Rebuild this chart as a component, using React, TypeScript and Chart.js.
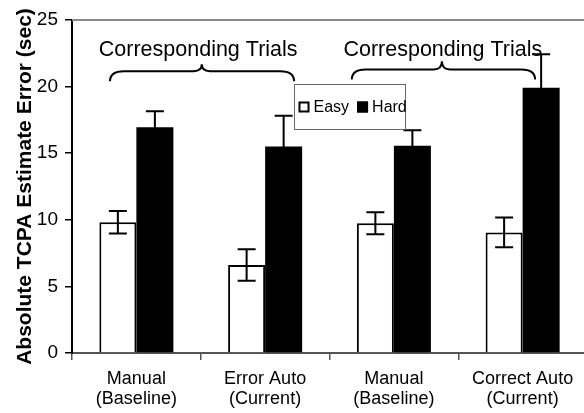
import React, { useEffect, useRef } from 'react';
import { Chart, registerables } from 'chart.js';

Chart.register(...registerables);

const categories: string[][] = [
  ['Manual', '(Baseline)'],
  ['Error Auto', '(Current)'],
  ['Manual', '(Baseline)'],
  ['Correct Auto', '(Current)'],
];
const seriesNames = ['Easy', 'Hard'];
const easyValues = [9.82, 6.6, 9.74, 9.05];
const hardValues = [16.94, 15.51, 15.56, 19.91];
const easyErrors = [0.84, 1.18, 0.83, 1.12];
const hardErrors = [1.21, 2.31, 1.16, 2.51];
const yTicks = [0, 5, 10, 15, 20, 25];
const yTitle = 'Absolute TCPA Estimate Error (sec)';

// annotation groups (category-index positions and y values)
const groupLabels = ['Corresponding Trials', 'Corresponding Trials'];
const groupLabelX = [0.48, 2.38];
const groupLabelY = [22.29, 22.29];
const braceFrom = [-0.205, 1.673];
const braceTo = [1.225, 3.097];
const braceMid = [0.508, 2.373];
const braceTipY = [21.67, 21.9];
const braceLineY = [21.16, 21.29];
const braceEndY = [20.4, 20.53];

const FONT = '"Liberation Sans", Arial, Helvetica, sans-serif';

const errorBarPlugin = {
  id: 'errorBars',
  afterDatasetsDraw(chart: any) {
    const ctx = chart.ctx;
    const y = chart.scales.y;
    const errs = [easyErrors, hardErrors];
    chart.data.datasets.forEach((ds: any, di: number) => {
      const meta = chart.getDatasetMeta(di);
      meta.data.forEach((el: any, i: number) => {
        const v = ds.data[i];
        const e = errs[di][i];
        const yTop = y.getPixelForValue(v + e);
        const yBot = y.getPixelForValue(v - e);
        const cap = 9;
        ctx.save();
        ctx.strokeStyle = '#000';
        ctx.lineWidth = 2;
        ctx.beginPath();
        ctx.moveTo(el.x, yTop);
        ctx.lineTo(el.x, yBot);
        ctx.moveTo(el.x - cap, yTop);
        ctx.lineTo(el.x + cap, yTop);
        ctx.moveTo(el.x - cap, yBot);
        ctx.lineTo(el.x + cap, yBot);
        ctx.stroke();
        ctx.restore();
      });
    });
  },
};

const annotationPlugin = {
  id: 'annotations',
  afterDraw(chart: any) {
    const ctx = chart.ctx;
    const xs = chart.scales.x;
    const ys = chart.scales.y;
    const area = chart.chartArea;
    // plot area top border
    ctx.save();
    ctx.strokeStyle = '#8a8a8a';
    ctx.lineWidth = 2;
    ctx.beginPath();
    ctx.moveTo(area.left, area.top);
    ctx.lineTo(area.right, area.top);
    ctx.stroke();
    ctx.restore();

    // braces
    ctx.save();
    ctx.strokeStyle = '#000';
    ctx.lineWidth = 2;
    for (let i = 0; i < braceFrom.length; i++) {
      const x1 = xs.getPixelForValue(braceFrom[i]);
      const x2 = xs.getPixelForValue(braceTo[i]);
      const xm = xs.getPixelForValue(braceMid[i]);
      const yTip = ys.getPixelForValue(braceTipY[i]);
      const yL = ys.getPixelForValue(braceLineY[i]);
      const yE = ys.getPixelForValue(braceEndY[i]);
      const r = 14;
      const r2 = 8;
      ctx.beginPath();
      ctx.moveTo(x1, yE);
      ctx.quadraticCurveTo(x1, yL, x1 + r, yL);
      ctx.lineTo(xm - r2, yL);
      ctx.quadraticCurveTo(xm, yL, xm, yTip);
      ctx.quadraticCurveTo(xm, yL, xm + r2, yL);
      ctx.lineTo(x2 - r, yL);
      ctx.quadraticCurveTo(x2, yL, x2, yE);
      ctx.stroke();
    }
    ctx.restore();

    // group labels
    ctx.save();
    ctx.fillStyle = '#000';
    ctx.font = `21.5px ${FONT}`;
    ctx.textAlign = 'center';
    ctx.textBaseline = 'alphabetic';
    for (let i = 0; i < groupLabels.length; i++) {
      ctx.fillText(groupLabels[i], xs.getPixelForValue(groupLabelX[i]), ys.getPixelForValue(groupLabelY[i]));
    }
    ctx.restore();

    // legend box
    const box = { left: 294.5, top: 84.5, width: 111, height: 45 };
    ctx.save();
    ctx.fillStyle = '#fff';
    ctx.fillRect(box.left, box.top, box.width, box.height);
    ctx.strokeStyle = '#666';
    ctx.lineWidth = 1;
    ctx.strokeRect(box.left, box.top, box.width, box.height);
    ctx.font = `16px ${FONT}`;
    ctx.textBaseline = 'middle';
    ctx.textAlign = 'left';
    const cy = box.top + box.height / 2;
    let x = box.left + 4;
    chart.data.datasets.forEach((ds: any) => {
      const s = 11;
      ctx.fillStyle = ds.backgroundColor;
      ctx.fillRect(x, cy - s / 2, s, s);
      ctx.strokeStyle = '#000';
      ctx.lineWidth = 2;
      ctx.strokeRect(x + 1, cy - s / 2 + 1, s - 2, s - 2);
      ctx.fillStyle = '#000';
      ctx.fillText(ds.label, x + s + 4, cy + 1);
      x += s + 4 + ctx.measureText(ds.label).width + 8;
    });
    ctx.restore();
  },
};

export default function App() {
  const ref = useRef<HTMLCanvasElement | null>(null);
  useEffect(() => {
    if (!ref.current) return;
    const chart = new Chart(ref.current, {
      type: 'bar',
      data: {
        labels: categories,
        datasets: [
          {
            label: seriesNames[0],
            data: easyValues,
            backgroundColor: '#ffffff',
            borderColor: '#000000',
            borderWidth: 2,
            categoryPercentage: 0.575,
            barPercentage: 1,
          },
          {
            label: seriesNames[1],
            data: hardValues,
            backgroundColor: '#000000',
            borderColor: '#000000',
            borderWidth: 0,
            categoryPercentage: 0.575,
            barPercentage: 1,
          },
        ],
      },
      options: {
        animation: false,
        responsive: false,
        maintainAspectRatio: false,
        layout: { padding: { left: 9, right: 5, top: 20, bottom: 1 } },
        plugins: {
          legend: { display: false },
          tooltip: { enabled: false },
        },
        scales: {
          x: {
            afterFit: (scale: any) => {
              scale.height = 59;
            },
            grid: {
              drawOnChartArea: false,
              drawTicks: true,
              tickLength: 7,
              color: '#555',
              lineWidth: 1.5,
            },
            border: { display: true, color: '#555', width: 2 },
            ticks: {
              color: '#000',
              font: { family: FONT, size: 18, lineHeight: 1.1 },
              padding: 9,
              maxRotation: 0,
              autoSkip: false,
            },
          },
          y: {
            min: 0,
            max: 25,
            afterBuildTicks: (scale: any) => {
              scale.ticks = yTicks.map((v) => ({ value: v }));
            },
            afterFit: (scale: any) => {
              scale.width = 63;
            },
            grid: {
              drawOnChartArea: false,
              drawTicks: true,
              tickLength: 7,
              color: '#000',
              lineWidth: 1.5,
            },
            border: { display: true, color: '#000', width: 2 },
            ticks: {
              color: '#000',
              font: { family: FONT, size: 19 },
              padding: 7,
            },
            title: {
              display: true,
              text: yTitle,
              color: '#000',
              font: { family: FONT, size: 21, weight: 'bold' },
              padding: { top: 4, bottom: 0 },
            },
          },
        },
      },
      plugins: [errorBarPlugin, annotationPlugin],
    } as any);
    return () => chart.destroy();
  }, []);
  return (
    <div style={{ position: 'fixed', left: 0, top: 0, width: 584, height: 413, overflow: 'hidden', background: '#fff' }}>
      <canvas ref={ref} width={592} height={413} style={{ display: 'block' }} />
    </div>
  );
}
